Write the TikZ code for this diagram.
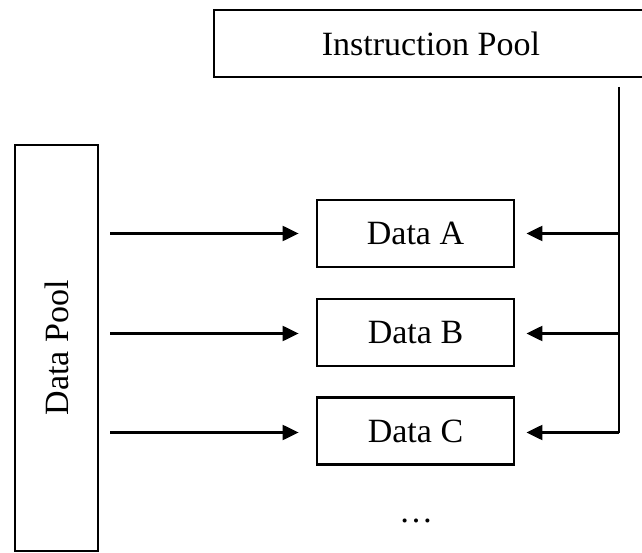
\documentclass[tikz,border=0pt]{standalone}
\usepackage{fontspec}
\setmainfont{Liberation Serif}
\usetikzlibrary{arrows.meta}
\begin{document}
\begin{tikzpicture}[x=1pt,y=-1pt,
  pool/.style={draw,line width=2.8pt,inner sep=0pt,font=\fontsize{34}{40}\selectfont},
  databox/.style={draw,line width=2.8pt,minimum width=197pt,minimum height=67pt,inner sep=0pt,font=\fontsize{34}{40}\selectfont},
  feed/.style={line width=2.2pt,-{Triangle[length=16pt,width=15pt]}},
  bus/.style={line width=2.2pt}]
\useasboundingbox (0,0) rectangle (642,553);
\clip (0,0) rectangle (642,553);

% pools
\node[pool,minimum width=434pt,minimum height=67pt] (ip) at (431,43.5) {Instruction Pool};
\node[pool,minimum width=83pt,minimum height=406pt] (dp) at (56.5,348) {};
\node[rotate=90,font=\fontsize{34}{40}\selectfont] (dpl) at (dp.center) {Data Pool};

% data items
\node[databox] (da) at (415.5,233.5) {Data A};
\node[databox] (db) at (415.5,332.5) {Data B};
\node[databox] (dc) at (415.5,431) {Data C};
\node[font=\fontsize{34}{40}\selectfont] (dots) at (416,521) {\dots};

% inputs from the data pool
\coordinate (la) at (110,233.5);
\coordinate (lb) at (110,333.5);
\coordinate (lc) at (110,432.5);
\draw[feed,shorten >=17pt] (la) -- (la -| da.west);
\draw[feed,shorten >=17pt] (lb) -- (lb -| db.west);
\draw[feed,shorten >=17pt] (lc) -- (lc -| dc.west);

% instruction bus on the right
\coordinate (bt) at (619,87);
\coordinate (ra) at (619,233.5);
\coordinate (rb) at (619,333.5);
\coordinate (rc) at (619,432.5);
\draw[bus] (bt) -- (rc);
\draw[feed,shorten >=11pt] (ra) -- (ra -| da.east);
\draw[feed,shorten >=11pt] (rb) -- (rb -| db.east);
\draw[feed,shorten >=11pt] (rc) -- (rc -| dc.east);
\end{tikzpicture}
\end{document}
